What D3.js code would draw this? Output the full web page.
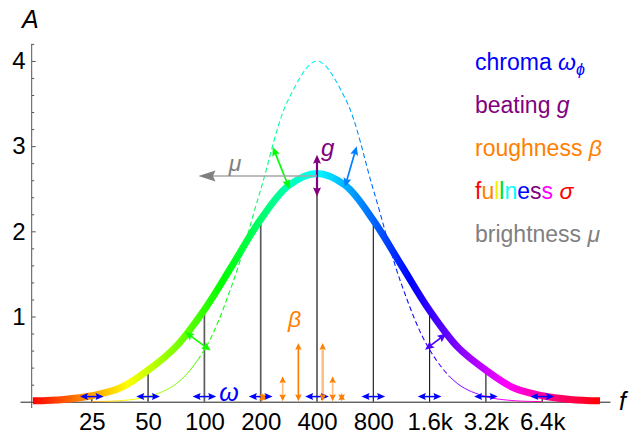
<!DOCTYPE html>
<html lang="en">
<head>
<meta charset="UTF-8">
<title>Timbre envelope</title>
<script src="https://d3js.org/d3.v7.min.js"></script>
<style>
    body {margin: 0; background: #fff;}
    text {font-family: "Liberation Sans", Arial, sans-serif;}
    .it {font-style: italic;}
</style>
</head>
<body>
<script>
    // harmonic stems, one per octave
    const stemFreqs = [25, 50, 100, 200, 400, 800, 1600, 3200, 6400];
    const stemAmps  = [0.07, 0.37, 1.08, 2.15, 2.68, 2.12, 1.07, 0.37, 0.07];
    const xTickLabels = ["25", "50", "100", "200", "400", "800", "1.6k", "3.2k", "6.4k"];
    const yTicks = [1, 2, 3, 4];

    // broad envelope (thick rainbow curve)
    const envFreqs = [12.1, 17.7, 25, 35.4, 50, 70.7, 100, 141, 200, 283, 400, 566, 800, 1131, 1600, 2263, 3200, 4525, 6400, 9051, 13040];
    const envAmps  = [0.01, 0.027, 0.07, 0.16, 0.37, 0.65, 1.08, 1.60, 2.14, 2.54, 2.68, 2.54, 2.13, 1.60, 1.07, 0.64, 0.37, 0.16, 0.07, 0.027, 0.01];

    // narrow envelope (dashed)
    const narrowFreqs = [25, 35.4, 50, 70.7, 100, 141, 200, 283, 400, 566, 800, 1131, 1600, 2263, 3200, 4525, 6400];
    const narrowAmps  = [0.002, 0.012, 0.06, 0.21, 0.61, 1.38, 2.49, 3.56, 4.0, 3.56, 2.49, 1.38, 0.61, 0.21, 0.06, 0.012, 0.002];

    // fullness arrows: point on broad curve -> point on narrow curve
    const fullFrom = [[78.8, 0.82], [285, 2.50], [564, 2.52], [1970, 0.80]];
    const fullTo   = [[108, 0.60], [232, 2.99], [652, 3.00], [1512, 0.61]];

    // roughness arrows
    const betaFreqs = [205, 262, 318, 429, 485, 542];
    const betaAmps  = [0.10, 0.30, 0.69, 0.69, 0.30, 0.10];

    // beating + brightness
    const beatFreq = 400, beatRange = [2.41, 2.90];
    const brightFrom = [400, 2.65], brightTo = [93, 2.65];

    const width = 642, height = 434;

    const svg = d3.select("body").append("svg")
            .attr("width", width).attr("height", height);

    const x = d3.scaleLog().base(2).domain([10.33, 14745]).range([20, 610]);
    const y = d3.scaleLinear().domain([0, 4.2]).range([401.7, 43.9]);
    const hsb = h => d3.hsl(h, 1, 0.5).formatHex();

    // rainbow along frequency
    const defs = svg.append("defs");
    const grad = defs.append("linearGradient").attr("id", "rainbow")
            .attr("gradientUnits", "userSpaceOnUse")
            .attr("x1", x(12.1)).attr("x2", x(13040)).attr("y1", 0).attr("y2", 0);
    d3.range(0, 13).forEach(i => grad.append("stop")
            .attr("offset", i / 12).attr("stop-color", hsb(i * 30)));

    const dashLo = 93, dashHi = 2039;
    defs.append("clipPath").attr("id", "mid").append("rect")
            .attr("x", x(dashLo)).attr("y", 0).attr("width", x(dashHi) - x(dashLo)).attr("height", height);
    const tails = defs.append("clipPath").attr("id", "tails");
    tails.append("rect").attr("x", 0).attr("y", 0).attr("width", x(dashLo)).attr("height", height);
    tails.append("rect").attr("x", x(dashHi)).attr("y", 0).attr("width", width).attr("height", height);

    // axes
    const xAxis = d3.axisBottom(x).tickValues(stemFreqs)
            .tickFormat((d, i) => xTickLabels[i]).tickSize(0).tickSizeOuter(0).tickPadding(11);
    const gx = svg.append("g").attr("transform", `translate(0,${y(0)})`).call(xAxis);
    gx.select(".domain").attr("stroke", "#222");
    gx.selectAll("text").style("font-size", "24px").attr("fill", "#000");

    svg.append("line").attr("x1", 31.7).attr("x2", 31.7)
            .attr("y1", y(-0.075)).attr("y2", y(4.2))
            .attr("stroke", "#555");
    const minor = d3.range(1, 22).map(i => i / 5).filter(v => Math.abs(v - Math.round(v)) > 0.01);
    svg.append("g").attr("transform", "translate(31.7,0)")
            .call(d3.axisLeft(y).tickValues(minor).tickSize(-2.5).tickFormat(""))
            .call(g => g.select(".domain").remove())
            .selectAll("line").attr("stroke", "#555");
    const gy = svg.append("g").attr("transform", "translate(31.7,0)")
            .call(d3.axisLeft(y).tickValues(yTicks).tickSize(-4).tickPadding(6).tickFormat(d3.format("d")))
            .call(g => g.select(".domain").remove());
    gy.selectAll("line").attr("stroke", "#555");
    gy.selectAll("text").style("font-size", "24px").attr("fill", "#000");

    svg.append("text").attr("class", "it").attr("x", 22).attr("y", 28)
            .style("font-size", "25px").text("A");
    svg.append("text").attr("class", "it").attr("x", 619).attr("y", 410)
            .style("font-size", "25px").text("f");

    // stems
    svg.append("g").selectAll("line").data(stemFreqs).join("line")
            .attr("x1", d => x(d)).attr("x2", d => x(d))
            .attr("y1", y(0)).attr("y2", (d, i) => y(stemAmps[i]))
            .attr("stroke", (d, i) => i <= 4 ? "#5a5a5a" : "#111")
            .attr("stroke-width", (d, i) => i <= 4 ? 1.7 : 1.1);

    // narrow envelope
    const narrowLine = d3.line().x(d => x(d[0])).y(d => y(d[1])).curve(d3.curveCatmullRom);
    const narrowPts = d3.zip(narrowFreqs, narrowAmps);
    svg.append("path").datum(narrowPts).attr("d", narrowLine)
            .attr("clip-path", "url(#mid)")
            .attr("fill", "none").attr("stroke", "url(#rainbow)")
            .attr("stroke-width", 1.1).attr("stroke-dasharray", "5,3");
    svg.append("path").datum(narrowPts).attr("d", narrowLine)
            .attr("clip-path", "url(#tails)")
            .attr("fill", "none").attr("stroke", "url(#rainbow)")
            .attr("stroke-width", 1);

    // broad envelope
    const envLine = d3.line().x(d => x(d[0])).y(d => y(d[1])).curve(d3.curveCatmullRom);
    svg.append("path").datum(d3.zip(envFreqs, envAmps)).attr("d", envLine)
            .attr("fill", "none").attr("stroke", "url(#rainbow)")
            .attr("stroke-width", 7).attr("stroke-linecap", "butt");

    // arrows
    function head(g, tx, ty, ux, uy, len, wid, color) {
        const nx = -uy, ny = ux;
        const pts = [
            [tx, ty],
            [tx - ux * len + nx * wid / 2, ty - uy * len + ny * wid / 2],
            [tx - ux * len * 0.85, ty - uy * len * 0.85],
            [tx - ux * len - nx * wid / 2, ty - uy * len - ny * wid / 2]
        ];
        g.append("polygon").attr("points", pts.map(p => p.join(",")).join(" ")).attr("fill", color);
    }

    function arrow(g, p1, p2, color, o) {
        const dx = p2[0] - p1[0], dy = p2[1] - p1[1];
        const L = Math.hypot(dx, dy), ux = dx / L, uy = dy / L;
        const s1 = o.both ? o.len * 0.8 : 0, s2 = o.len * 0.8;
        if (L > s1 + s2) {
            g.append("line")
                    .attr("x1", p1[0] + ux * s1).attr("y1", p1[1] + uy * s1)
                    .attr("x2", p2[0] - ux * s2).attr("y2", p2[1] - uy * s2)
                    .attr("stroke", o.shaft || color).attr("stroke-width", o.w)
                    .attr("stroke-opacity", o.op || 1);
        }
        head(g, p2[0], p2[1], ux, uy, o.len, o.wid, color);
        if (o.both) head(g, p1[0], p1[1], -ux, -uy, o.len, o.wid, color);
    }

    const ga = svg.append("g");
    const P = d => [x(d[0]), y(d[1])];

    // fullness
    const fullHues = [115, 122, 210, 258];
    fullFrom.forEach((d, i) => arrow(ga, P(d), P(fullTo[i]), hsb(fullHues[i]),
            {both: true, w: 1.7, len: 9, wid: 8}));

    // beating
    arrow(ga, P([beatFreq, beatRange[0]]), P([beatFreq, beatRange[1]]), "#800080",
            {both: true, w: 2.2, len: 9, wid: 8});

    // brightness
    arrow(ga, P(brightFrom), P(brightTo), "#808080",
            {both: false, w: 1.6, len: 17, wid: 11, shaft: "#a6a6a6"});

    // chroma
    stemFreqs.forEach(f => arrow(ga, P([f * Math.pow(2, -0.21), 0.06]), P([f * Math.pow(2, 0.21), 0.06]),
            "#0000ff", {both: true, w: 1.5, len: 8, wid: 7}));

    // roughness
    betaFreqs.forEach((f, i) => {
        const light = i === 1 || i === 3 || i === 4;
        arrow(ga, P([f, 0.005]), P([f, betaAmps[i]]), "#ff8000",
                {both: true, w: i === 3 ? 2.6 : 1.7, len: 7, wid: 6.5, op: light ? 0.5 : 1});
    });

    // annotation symbols
    const labels = [
        {t: "\u03bc", f: 135, a: 2.71, c: "#808080", s: 23},
        {t: "g", f: 420, a: 2.88, c: "#800080", s: 24},
        {t: "\u03b2", f: 280, a: 0.875, c: "#ff8000", s: 23},
        {t: "\u03c9", f: 120, a: 0.01, c: "#0000ff", s: 25}
    ];
    svg.append("g").selectAll("text").data(labels).join("text")
            .attr("class", "it")
            .attr("x", d => x(d.f)).attr("y", d => y(d.a))
            .attr("fill", d => d.c).style("font-size", d => d.s + "px")
            .text(d => d.t);

    // legend
    const lg = svg.append("g").attr("transform", "translate(475,0)").style("font-size", "23px");
    const ly = i => 69.5 + 43 * i;

    let t = lg.append("text").attr("y", ly(0)).attr("fill", "#0000ff");
    t.append("tspan").text("chroma ");
    t.append("tspan").attr("class", "it").text("\u03c9");
    t.append("tspan").attr("class", "it").attr("dy", 5).style("font-size", "16px").text("\u03d5");

    t = lg.append("text").attr("y", ly(1)).attr("fill", "#800080");
    t.append("tspan").text("beating ");
    t.append("tspan").attr("class", "it").text("g");

    t = lg.append("text").attr("y", ly(2)).attr("fill", "#ff8000");
    t.append("tspan").text("roughness ");
    t.append("tspan").attr("class", "it").text("\u03b2");

    const fullLetters = ["f", "u", "l", "l", "n", "e", "s", "s"];
    const fullColors = ["#ff0000", "#ff8000", "#f0f000", "#00e000", "#00ffff", "#0000ff", "#800080", "#ff00ff"];
    t = lg.append("text").attr("y", ly(3));
    fullLetters.forEach((ch, i) => t.append("tspan").attr("fill", fullColors[i]).text(ch));
    t.append("tspan").attr("fill", "#ff0000").text(" ");
    t.append("tspan").attr("class", "it").attr("fill", "#ff0000").text("\u03c3");

    t = lg.append("text").attr("y", ly(4)).attr("fill", "#808080");
    t.append("tspan").text("brightness ");
    t.append("tspan").attr("class", "it").text("\u03bc");
</script>
</body>
</html>
